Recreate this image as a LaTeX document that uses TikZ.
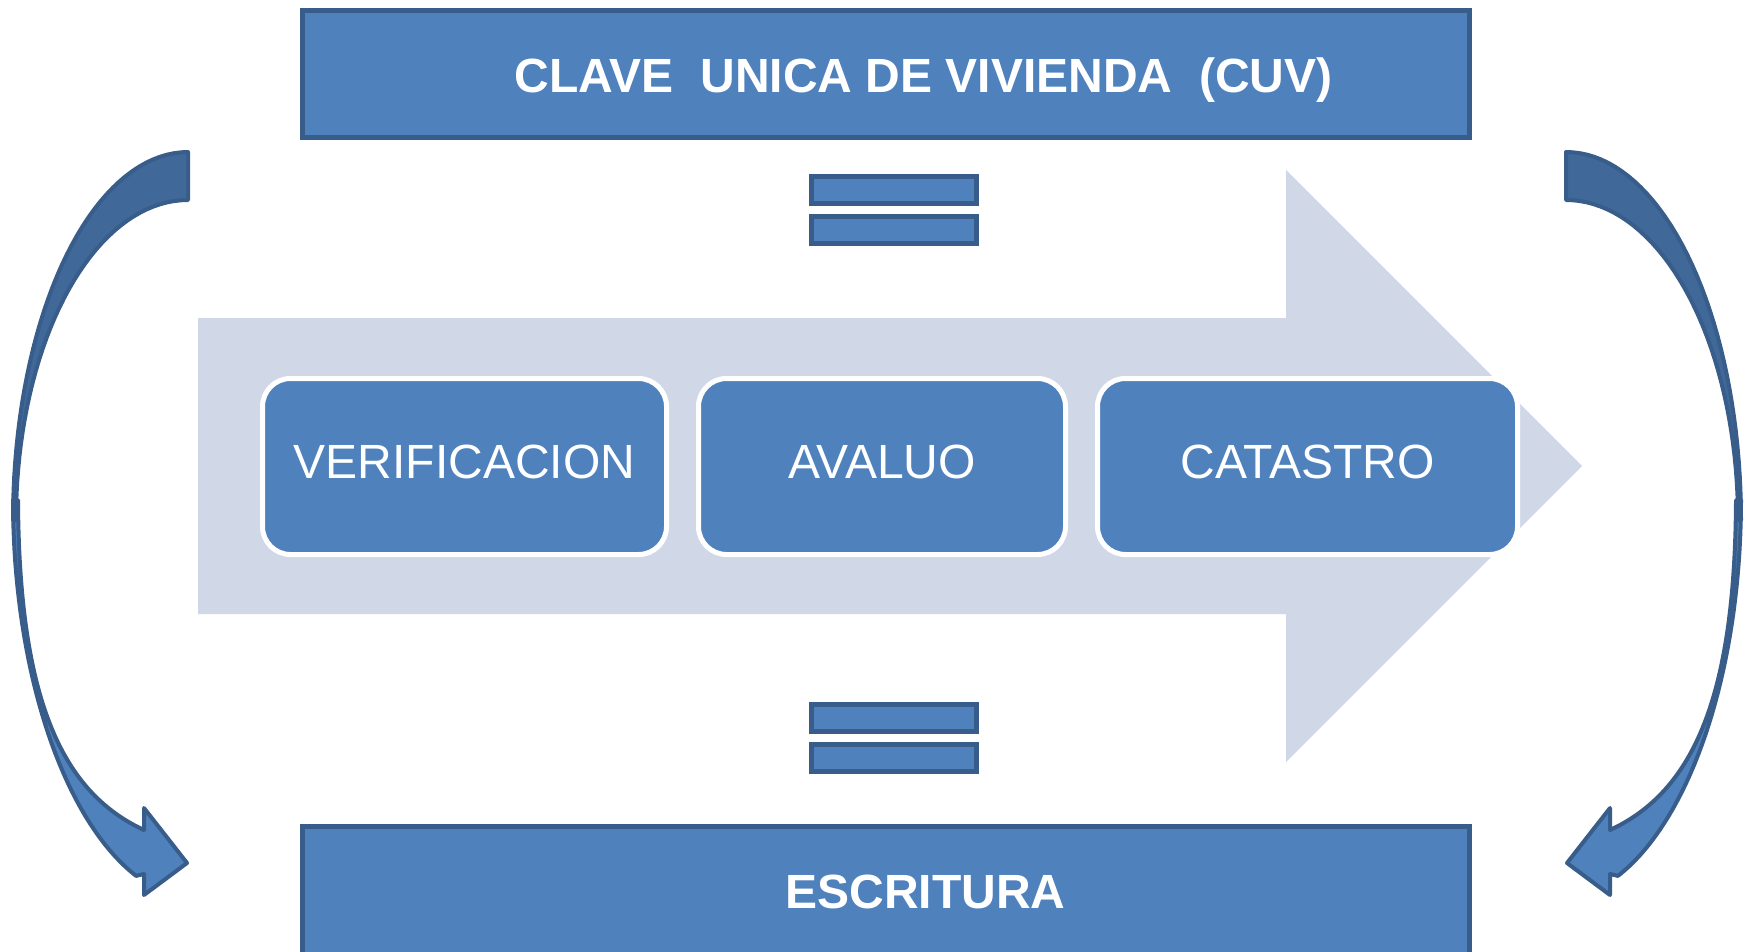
\documentclass[tikz,border=0pt]{standalone}
\usepackage{fontspec}
\setmainfont{Liberation Sans}
\definecolor{boxblue}{HTML}{4F81BD}
\definecolor{edgeblue}{HTML}{385D8A}
\definecolor{darkband}{HTML}{406898}
\definecolor{lightarrow}{HTML}{D0D8E8}
\newcommand\drawcurvedarrow{%
  % lower (front) band with head
  \filldraw[band, fill=boxblue]
    plot[domain=180:110, samples=40] ({200+187*cos(\x)}, {500+400*sin(\x)})
    -- (144,874) -- (144,895) -- (187,863) -- (144,808) -- (144,830)
    .. controls (62,792) and (19,700) .. (18,500) -- cycle;
  % upper (back) band
  \filldraw[band, fill=darkband]
    plot[domain=270:180, samples=40] ({188+175*cos(\x)}, {520+368*sin(\x)})
    -- plot[domain=180:270, samples=40] ({188+172*cos(\x)}, {520+320*sin(\x)})
    -- cycle;
}
\begin{document}
\begin{tikzpicture}[x=1pt,y=-1pt,
  bigbox/.style={draw=edgeblue, fill=boxblue, line width=5pt, inner sep=0pt, minimum width=1167pt},
  eqbar/.style={draw=edgeblue, fill=boxblue, line width=5pt, inner sep=0pt, minimum width=165pt, minimum height=27pt},
  procbox/.style={draw=white, fill=boxblue, line width=5pt, rounded corners=28pt, minimum height=176pt, inner sep=0pt, text=white, font=\fontsize{48}{54}\selectfont, text depth=10pt},
  title/.style={text=white, font=\bfseries\fontsize{48}{54}\selectfont, anchor=base, inner sep=0pt},
  band/.style={draw=edgeblue, line width=4pt, line join=round},
]
\useasboundingbox (0,0) rectangle (1750,951);
\clip (0,0) rectangle (1750,951);

% big light process arrow
\fill[lightarrow] (198,318) -- (1286,318) -- (1286,170) -- (1582,466)
  -- (1286,762) -- (1286,614) -- (198,614) -- cycle;

% top box
\node[bigbox, minimum height=127.5pt] (clave) at (886,73.75) {};
\node[title] (clavetext) at (923.5,92) {CLAVE\ \ UNICA DE VIVIENDA\ \ (CUV)};

% equal signs
\node[eqbar] (eqa1) at (894,190) {};
\node[eqbar] (eqa2) at (894,230) {};
\node[eqbar] (eqb1) at (894,718) {};
\node[eqbar] (eqb2) at (894,758) {};

% process boxes
\node[procbox, minimum width=404pt] (verif) at (464.5,466.5) {VERIFICACION};
\node[procbox, minimum width=367pt] (aval) at (882,466.5) {AVALUO};
\node[procbox, minimum width=420pt] (cata) at (1307.5,466.5) {CATASTRO};

% bottom box
\node[bigbox, minimum height=174pt] (escr) at (885.5,913) {};
\node[title] (escrtext) at (925.5,908) {ESCRITURA};

% curved arrows
\drawcurvedarrow
\begin{scope}[xshift=1754pt, xscale=-1]
\drawcurvedarrow
\end{scope}
\end{tikzpicture}
\end{document}
